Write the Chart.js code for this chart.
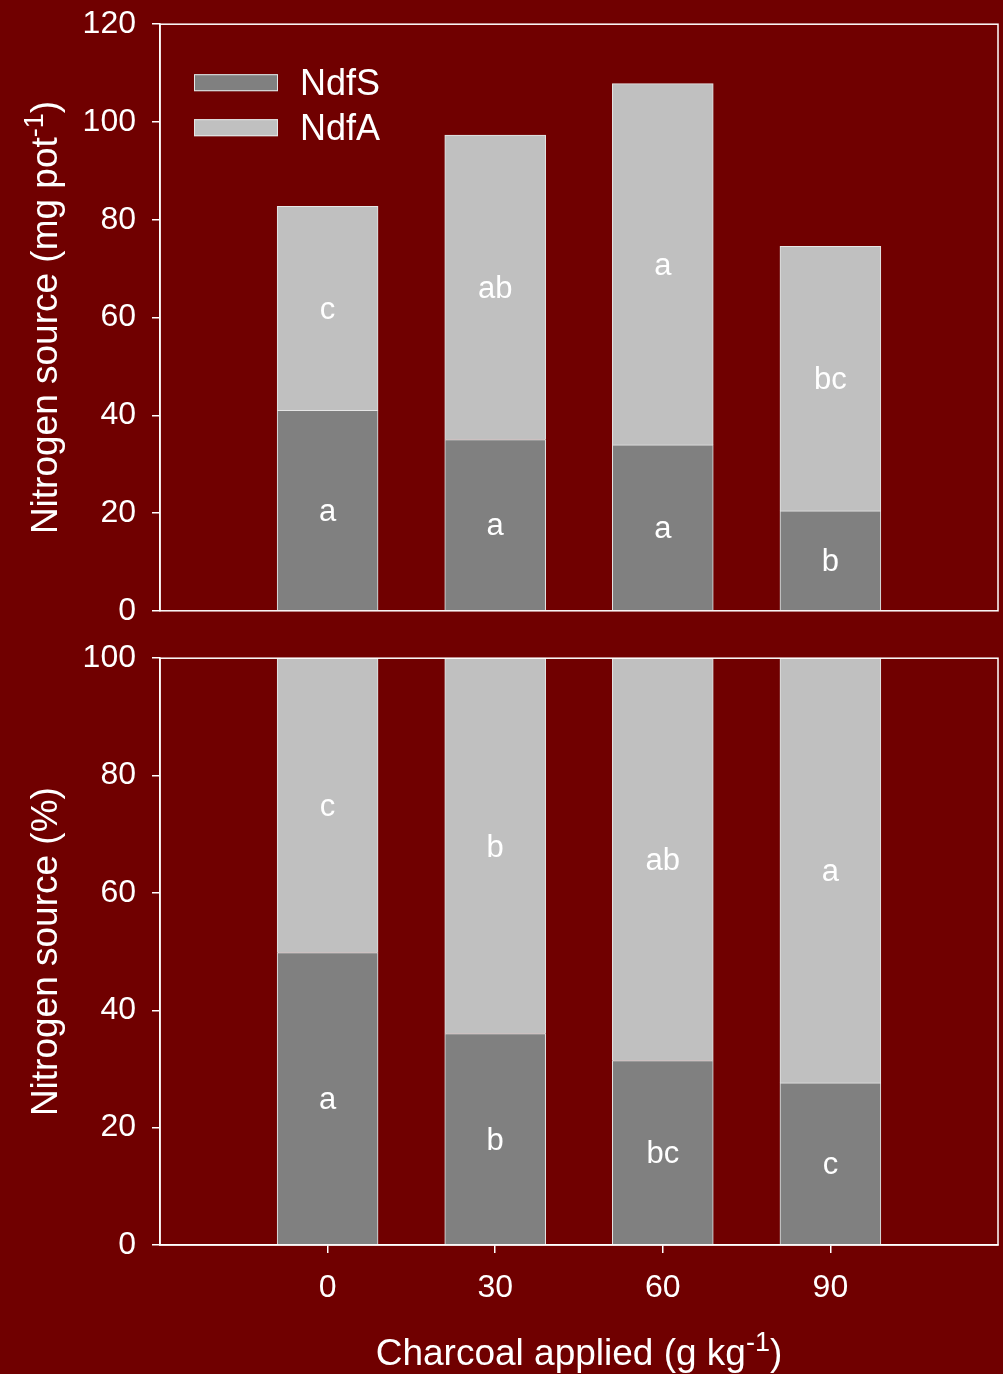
<!DOCTYPE html>
<html>
<head>
<meta charset="utf-8">
<title>Nitrogen source</title>
<script src="https://cdn.jsdelivr.net/npm/chart.js@4.4.1/dist/chart.umd.min.js"></script>
<style>
  html, body { margin: 0; padding: 0; background: #700000; }
  body { width: 1003px; height: 1374px; position: relative; overflow: hidden; }
  canvas { position: absolute; left: 0; }
  #massChart { top: -11px; }
  #pctChart { top: 623px; }
</style>
</head>
<body>
<canvas id="massChart" width="1003" height="657"></canvas>
<canvas id="pctChart" width="1003" height="751"></canvas>
<script>
// charcoal doses (g/kg)
const doses = [0, 30, 60, 90];

// nitrogen in plant, mg per pot
const massNdfS = [41.0, 35.0, 33.9, 20.4];
const massNdfA = [41.7, 62.3, 73.9, 54.1];
const massNdfSLetters = ['a', 'a', 'a', 'b'];
const massNdfALetters = ['c', 'ab', 'a', 'bc'];
const massTicks = [0, 20, 40, 60, 80, 100, 120];

// same split as percentage
const pctNdfS = [49.8, 36.0, 31.4, 27.6];
const pctNdfA = [50.2, 64.0, 68.6, 72.4];
const pctNdfSLetters = ['a', 'b', 'bc', 'c'];
const pctNdfALetters = ['c', 'b', 'ab', 'a'];
const pctTicks = [0, 20, 40, 60, 80, 100];

const FONT = '"Liberation Sans", Arial, Helvetica, sans-serif';
const WHITE = '#ffffff';
const DARK = '#808080';
const LIGHT = '#c0c0c0';

Chart.defaults.font.family = FONT;
Chart.defaults.color = WHITE;

// text with optional superscript parts, centred on (x, y) baseline
function drawRich(ctx, parts, x, y, angle, size) {
    ctx.save();
    ctx.translate(x, y);
    ctx.rotate(angle);
    ctx.fillStyle = WHITE;
    ctx.textBaseline = 'alphabetic';
    ctx.textAlign = 'left';
    let total = 0;
    parts.forEach(p => {
        ctx.font = (p.sup ? Math.round(size * 0.72) : size) + 'px ' + FONT;
        p.w = ctx.measureText(p.text).width;
        total += p.w;
    });
    let cx = -total / 2;
    parts.forEach(p => {
        ctx.font = (p.sup ? Math.round(size * 0.72) : size) + 'px ' + FONT;
        ctx.fillText(p.text, cx, p.sup ? -size * 0.38 : 0);
        cx += p.w;
    });
    ctx.restore();
}

const framePlugin = {
    id: 'frame',
    afterDatasetsDraw(chart) {
        const { ctx, chartArea: a } = chart;
        ctx.save();
        ctx.strokeStyle = WHITE;
        ctx.lineWidth = 1.5;
        ctx.strokeRect(a.left, a.top, a.right - a.left, a.bottom - a.top);
        ctx.restore();
    }
};

const lettersPlugin = {
    id: 'letters',
    afterDatasetsDraw(chart) {
        const { ctx } = chart;
        ctx.save();
        ctx.fillStyle = WHITE;
        ctx.font = '31px ' + FONT;
        ctx.textAlign = 'center';
        ctx.textBaseline = 'middle';
        chart.data.datasets.forEach((ds, di) => {
            const meta = chart.getDatasetMeta(di);
            meta.data.forEach((bar, i) => {
                ctx.fillText(ds.letters[i], bar.x, (bar.y + bar.base) / 2 + 2);
            });
        });
        ctx.restore();
    }
};

const titlesPlugin = {
    id: 'titles',
    afterDraw(chart, args, opts) {
        const { ctx, chartArea: a } = chart;
        const midY = (a.top + a.bottom) / 2;
        drawRich(ctx, opts.y, 57, midY, -Math.PI / 2, 37);
        if (opts.x) {
            drawRich(ctx, opts.x, (a.left + a.right) / 2, chart.height - 9, 0, 37);
        }
    }
};

const legendPlugin = {
    id: 'boxLegend',
    afterDraw(chart, args, opts) {
        if (!opts.show) return;
        const { ctx, chartArea: a } = chart;
        ctx.save();
        chart.data.datasets.forEach((ds, i) => {
            const top = a.top + 50 + i * 45;
            ctx.fillStyle = ds.backgroundColor;
            ctx.fillRect(194, top, 84, 17);
            ctx.strokeStyle = '#e6e6e6';
            ctx.lineWidth = 1;
            ctx.strokeRect(194.5, top + 0.5, 83, 16);
            ctx.fillStyle = WHITE;
            ctx.font = '36px ' + FONT;
            ctx.textAlign = 'left';
            ctx.textBaseline = 'alphabetic';
            ctx.fillText(ds.label, 300, top + 21);
        });
        ctx.restore();
    }
};

function points(values) {
    return doses.map((d, i) => ({ x: d, y: values[i] }));
}

function barSet(label, values, color, letters) {
    return {
        label: label,
        data: points(values),
        letters: letters,
        backgroundColor: color,
        borderColor: '#e6e6e6',
        borderWidth: 1,
        inflateAmount: 0.5,
        barPercentage: 0.6,
        categoryPercentage: 1.0
    };
}

function yScale(max, ticks) {
    return {
        stacked: true,
        min: 0,
        max: max,
        afterBuildTicks: s => { s.ticks = ticks.map(v => ({ value: v })); },
        afterFit: s => { s.width = 160; },
        border: { display: true, color: WHITE, width: 1.5 },
        grid: { drawOnChartArea: false, color: WHITE, lineWidth: 1.5, tickLength: 8 },
        ticks: { color: WHITE, font: { size: 32 }, padding: 16 }
    };
}

function xScale(showAxis) {
    return {
        type: 'linear',
        stacked: true,
        min: -30,
        max: 120,
        offset: false,
        display: showAxis,
        afterBuildTicks: s => { s.ticks = doses.map(v => ({ value: v })); },
        afterFit: s => { s.height = showAxis ? 129 : 0; },
        border: { display: true, color: WHITE, width: 1.5 },
        grid: { offset: false, drawOnChartArea: false, color: WHITE, lineWidth: 1.5, tickLength: 8 },
        ticks: { color: WHITE, font: { size: 32 }, padding: 16, maxRotation: 0, autoSkip: false }
    };
}

const common = {
    responsive: false,
    animation: false,
    events: []
};

new Chart(document.getElementById('massChart').getContext('2d'), {
    type: 'bar',
    data: {
        datasets: [
            barSet('NdfS', massNdfS, DARK, massNdfSLetters),
            barSet('NdfA', massNdfA, LIGHT, massNdfALetters)
        ]
    },
    options: Object.assign({}, common, {
        layout: { padding: { top: 0, right: 5, bottom: 0, left: 0 } },
        scales: { x: xScale(false), y: yScale(120, massTicks) },
        plugins: {
            legend: { display: false },
            tooltip: { enabled: false },
            boxLegend: { show: true },
            titles: {
                y: [{ text: 'Nitrogen source (mg pot' }, { text: '-1', sup: true }, { text: ')' }]
            }
        }
    }),
    plugins: [framePlugin, lettersPlugin, titlesPlugin, legendPlugin]
});

new Chart(document.getElementById('pctChart').getContext('2d'), {
    type: 'bar',
    data: {
        datasets: [
            barSet('NdfS', pctNdfS, DARK, pctNdfSLetters),
            barSet('NdfA', pctNdfA, LIGHT, pctNdfALetters)
        ]
    },
    options: Object.assign({}, common, {
        layout: { padding: { top: 0, right: 5, bottom: 0, left: 0 } },
        scales: { x: xScale(true), y: yScale(100, pctTicks) },
        plugins: {
            legend: { display: false },
            tooltip: { enabled: false },
            boxLegend: { show: false },
            titles: {
                y: [{ text: 'Nitrogen source (%)' }],
                x: [{ text: 'Charcoal applied (g kg' }, { text: '-1', sup: true }, { text: ')' }]
            }
        }
    }),
    plugins: [framePlugin, lettersPlugin, titlesPlugin, legendPlugin]
});
</script>
</body>
</html>
